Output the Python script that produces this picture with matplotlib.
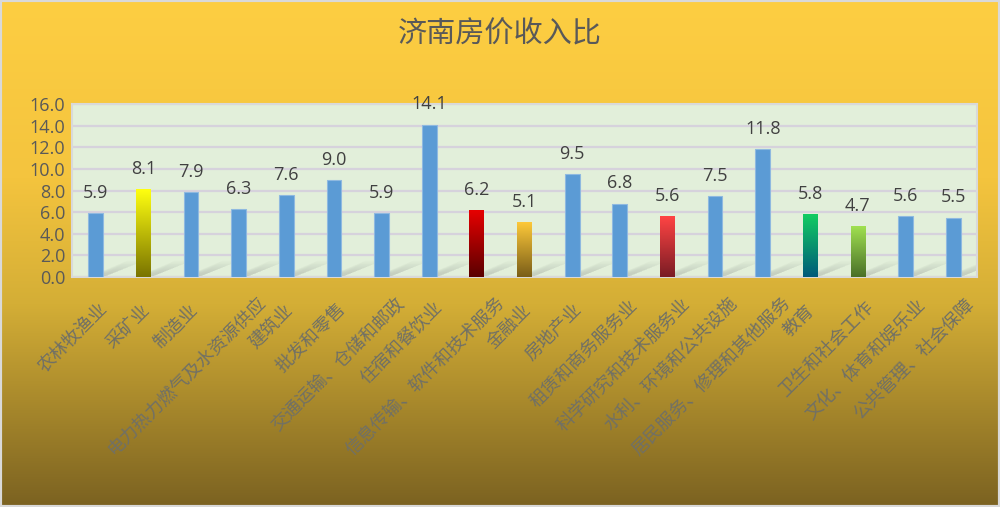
import numpy as np
import matplotlib.pyplot as plt
import matplotlib.transforms as mtransforms
from matplotlib.colors import LinearSegmentedColormap
from matplotlib.patches import Polygon

plt.rcParams['font.family'] = ['Noto Sans CJK SC', 'DejaVu Sans']

industries = ['农林牧渔业', '采矿业', '制造业', '电力热力燃气及水资源供应', '建筑业',
              '批发和零售', '交通运输、仓储和邮政', '住宿和餐饮业', '信息传输、软件和技术服务',
              '金融业', '房地产业', '租赁和商务服务业', '科学研究和技术服务业',
              '水利、环境和公共设施', '居民服务、修理和其他服务', '教育', '卫生和社会工作',
              '文化、体育和娱乐业', '公共管理、社会保障']
ratios = [5.9, 8.1, 7.9, 6.3, 7.6, 9.0, 5.9, 14.1, 6.2, 5.1, 9.5, 6.8, 5.6, 7.5,
          11.8, 5.8, 4.7, 5.6, 5.5]
yticks = [0, 2, 4, 6, 8, 10, 12, 14, 16]

# bars with a vertical gradient fill: (top colour, bottom colour)
gradients = {
    '采矿业': ('#ffff10', '#7a7400'),
    '信息传输、软件和技术服务': ('#e80000', '#5a0000'),
    '金融业': ('#ffca3a', '#7a5e18'),
    '科学研究和技术服务业': ('#ff4444', '#7a1c24'),
    '教育': ('#12cc62', '#005a7a'),
    '卫生和社会工作': ('#a0e050', '#4a7028'),
}

fig = plt.figure(figsize=(10, 5.07), dpi=100)

# background gradient of the whole figure
bg_ax = fig.add_axes([0, 0, 1, 1], zorder=-10)
bg_cmap = LinearSegmentedColormap.from_list(
    'bg', [(0.0, '#fdce42'), (0.35, '#f4c43e'), (0.6, '#d4ae36'), (1.0, '#7b6221')])
bg_ax.imshow(np.linspace(0, 1, 256).reshape(-1, 1), aspect='auto', cmap=bg_cmap,
             extent=[0, 1, 0, 1], origin='upper')
bg_ax.set_xlim(0, 1)
bg_ax.set_ylim(0, 1)
bg_ax.axis('off')
bg_ax.add_patch(plt.Rectangle((0, 0), 1, 1, transform=bg_ax.transAxes, fill=False,
                              edgecolor='#d9d9d9', linewidth=3))

ax = fig.add_axes([0.072, 0.4536, 0.905, 0.3412])
ax.set_facecolor('#e2efda')
x = np.arange(len(industries))
width = 0.31

# soft diagonal shadows at the foot of each bar
for xi in x:
    for s in np.linspace(1.0, 0.3, 8):
        shadow = Polygon([(xi - width / 2, 0), (xi + width / 2, 0),
                          (xi + width / 2 + 0.85 * s, 1.5 * s), (xi + width / 2 + 0.5 * s, 1.5 * s)],
                         closed=True, facecolor='#555555', edgecolor='none', alpha=0.025, zorder=1)
        ax.add_patch(shadow)

bars = ax.bar(x, ratios, width=width, color='#5b9bd5', edgecolor='#8fb9e0',
              linewidth=0.8, zorder=3)

for bar, name in zip(bars, industries):
    if name in gradients:
        top, bottom = gradients[name]
        cmap = LinearSegmentedColormap.from_list(name, [bottom, top])
        bar.set_facecolor('none')
        bar.set_edgecolor('none')
        x0, y0 = bar.get_x(), bar.get_y()
        img = ax.imshow(np.linspace(0, 1, 100).reshape(-1, 1), cmap=cmap, aspect='auto',
                        origin='lower', extent=[x0, x0 + bar.get_width(), y0, y0 + bar.get_height()],
                        zorder=3)
        img.set_clip_path(bar)

for xi, v in zip(x, ratios):
    ax.annotate(f'{v:.1f}', (xi, v), xytext=(0, 8), textcoords='offset points',
                ha='center', va='bottom', fontsize=13, color='#404040',
                family=['Open Sans', 'DejaVu Sans'])

ax.set_xlim(-0.5, len(industries) - 0.5)
ax.set_ylim(0, 16)
ax.set_yticks(yticks)
ax.set_yticklabels([f'{t:.1f}' for t in yticks], fontsize=13, color='#595959',
                   family=['Open Sans', 'DejaVu Sans'])
ax.yaxis.grid(True, color='#d6d2dc', linewidth=1.6, zorder=0)
ax.set_axisbelow(True)
ax.tick_params(axis='both', length=0)
ax.tick_params(axis='y', pad=5)
for side in ['top', 'right', 'left', 'bottom']:
    ax.spines[side].set_color('#d9d9d9')
    ax.spines[side].set_linewidth(1.5)

ax.set_xticks(x)
ax.set_xticklabels(industries, rotation=45, ha='right', va='center',
                   rotation_mode='anchor', fontsize=13, color='#707066', fontweight='light')
ax.tick_params(axis='x', pad=22)
for lbl, name in zip(ax.get_xticklabels(), industries):
    n = len(name)
    dx = (4 + (n - 3) * 2.3) / 100
    dy = ((n - 3) * 0.9) / 100
    lbl.set_transform(lbl.get_transform() + mtransforms.ScaledTranslation(dx, dy, fig.dpi_scale_trans))

fig.text(0.5, 1 - 34 / 507, '济南房价收入比', ha='center', va='center',
         fontsize=21, color='#595959', fontweight='light')

fig.savefig('out.png', dpi=100)
